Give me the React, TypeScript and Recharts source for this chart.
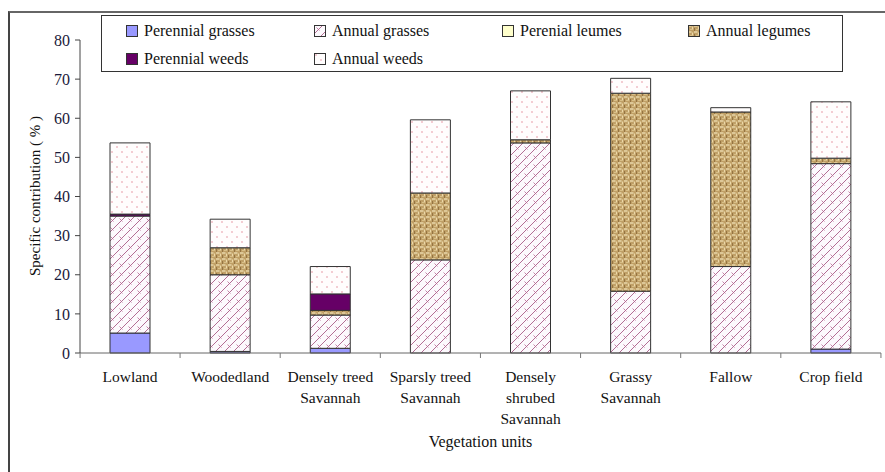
import React from "react";
import { BarChart, Bar, XAxis, YAxis, Label } from "recharts";

const categories = [
  "Lowland",
  "Woodedland",
  "Densely treed\nSavannah",
  "Sparsly treed\nSavannah",
  "Densely\nshrubed\nSavannah",
  "Grassy\nSavannah",
  "Fallow",
  "Crop field",
];
const perennialGrasses = [5.1, 0.4, 1.2, 0, 0, 0, 0, 1.0];
const annualGrasses = [29.9, 19.6, 8.5, 23.8, 53.7, 15.8, 22.1, 47.4];
const perennialLegumes = [0, 0, 0, 0, 0, 0, 0, 0];
const annualLegumes = [0, 6.9, 1.2, 17.1, 0.8, 50.6, 39.5, 1.4];
const perennialWeeds = [0.5, 0, 4.2, 0, 0, 0, 0, 0];
const annualWeeds = [18.2, 7.3, 7.0, 18.7, 12.5, 3.8, 1.1, 14.4];
const yTicks = [0, 10, 20, 30, 40, 50, 60, 70, 80];

const FONT = "Liberation Serif";

const series = [
  { key: "pg", name: "Perennial grasses", fill: "#9999ff" },
  { key: "ag", name: "Annual grasses", fill: "url(#patAG)" },
  { key: "pl", name: "Perenial leumes", fill: "#ffffcc" },
  { key: "al", name: "Annual legumes", fill: "url(#patAL)" },
  { key: "pw", name: "Perennial weeds", fill: "#660066" },
  { key: "aw", name: "Annual weeds", fill: "url(#patAW)" },
];

const data = categories.map((c, i) => ({
  name: c,
  pg: perennialGrasses[i],
  ag: annualGrasses[i],
  pl: perennialLegumes[i],
  al: annualLegumes[i],
  pw: perennialWeeds[i],
  aw: annualWeeds[i],
}));

const CategoryTick = (props: any) => {
  const { x, y, payload, index } = props;
  const lines = String(payload.value).split("\n");
  const half = 50;
  return (
    <g>
      <line x1={x + half} y1={y} x2={x + half} y2={y + 5} stroke="#777" />
      {index === 0 && <line x1={x - half} y1={y} x2={x - half} y2={y + 5} stroke="#777" />}
      <text x={x} y={y + 29} textAnchor="middle" fontFamily={FONT} fontSize={15.5} fill="#111">
        {lines.map((l, i) => (
          <tspan key={i} x={x} dy={i === 0 ? 0 : 21}>
            {l}
          </tspan>
        ))}
      </text>
    </g>
  );
};

// legend drawn as an overlay box, two rows of four columns
const LegendBox = () => {
  const cols = [0, 188, 376, 562];
  return (
    <div
      style={{
        position: "absolute",
        left: 101,
        top: 15,
        width: 740,
        height: 55,
        border: "1.5px solid #333",
        background: "#fff",
        fontFamily: FONT,
        fontSize: 16,
        color: "#111",
      }}
    >
      {series.map((s, i) => {
        const row = i < 4 ? 0 : 1;
        const col = i < 4 ? i : i - 4;
        return (
          <div
            key={s.key}
            style={{
              position: "absolute",
              left: 24 + cols[col],
              top: 6 + row * 28,
              display: "flex",
              alignItems: "center",
              whiteSpace: "nowrap",
              lineHeight: "18px",
            }}
          >
            <svg width={12} height={12} style={{ marginRight: 6 }}>
              <rect x={0.5} y={0.5} width={11} height={11} fill={s.fill} stroke="#333" />
            </svg>
            <span>{s.name}</span>
          </div>
        );
      })}
    </div>
  );
};

export default function App() {
  return (
    <div style={{ position: "absolute", left: 0, top: 0, width: 885, height: 472, background: "#fff" }}>
      <div
        style={{
          position: "absolute",
          left: 8,
          top: 11,
          right: 0,
          bottom: 0,
          borderTop: "2px solid #666",
          borderLeft: "2px solid #444",
        }}
      />
      <BarChart
        width={885}
        height={472}
        data={data}
        margin={{ top: 40, right: 4, left: 0, bottom: 9 }}
        barCategoryGap={0}
      >
        <defs>
          <pattern id="patAG" patternUnits="userSpaceOnUse" width={9} height={9}>
            <rect width={9} height={9} fill="#fcf9fd" />
            <path d="M0 9 L9 0" stroke="#a04a78" strokeWidth={0.8} />
            <path d="M2.5 2.5 L5.5 5.5" stroke="#b86690" strokeWidth={0.8} />
          </pattern>
          <pattern id="patAL" patternUnits="userSpaceOnUse" width={6} height={6}>
            <rect width={6} height={6} fill="#bf9f66" />
            <path d="M0 1 H3.5" stroke="#f2e2b8" strokeWidth={1.2} />
            <path d="M4.5 1.5 V5" stroke="#ecd8a8" strokeWidth={1.2} />
            <path d="M0.5 3 V6" stroke="#8a6a38" strokeWidth={0.8} />
            <path d="M2 4.5 H5" stroke="#d8bf88" strokeWidth={1} />
          </pattern>
          <pattern id="patAW" patternUnits="userSpaceOnUse" width={10} height={10}>
            <rect width={10} height={10} fill="#fffdfd" />
            <circle cx={2} cy={2} r={0.7} fill="#e07a8a" />
            <circle cx={7} cy={7} r={0.7} fill="#e07a8a" />
          </pattern>
        </defs>
        <XAxis
          dataKey="name"
          interval={0}
          tickSize={0}
          tickMargin={0}
          height={110}
          stroke="#666"
          tick={<CategoryTick />}
        >
          <Label
            content={(p: any) => (
              <text
                x={p.viewBox.x + p.viewBox.width / 2}
                y={447}
                textAnchor="middle"
                fontFamily={FONT}
                fontSize={16}
                fill="#111"
              >
                Vegetation units
              </text>
            )}
          />
        </XAxis>
        <YAxis
          width={80}
          domain={[0, 80]}
          ticks={yTicks}
          interval={0}
          tickSize={5}
          tickMargin={5}
          stroke="#444"
          tick={{ fontFamily: FONT, fontSize: 16, fill: "#1a1a3a" }}
        >
          <Label
            content={() => (
              <text
                x={40}
                y={196}
                transform="rotate(-90 40 196)"
                textAnchor="middle"
                fontFamily={FONT}
                fontSize={15}
                fill="#111"
              >
                Specific contribution ( % )
              </text>
            )}
          />
        </YAxis>
        {series.map((s) => (
          <Bar
            key={s.key}
            dataKey={s.key}
            name={s.name}
            stackId="a"
            fill={s.fill}
            stroke="#333"
            strokeWidth={1}
            barSize={40}
            isAnimationActive={false}
          />
        ))}
      </BarChart>
      <LegendBox />
    </div>
  );
}
